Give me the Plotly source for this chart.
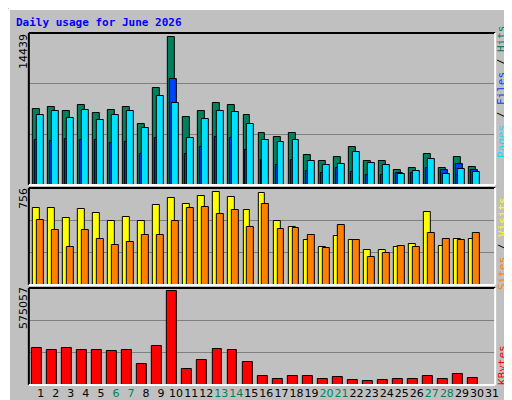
import plotly.graph_objects as go

days = list(range(1, 32))
hits = [7430,7630,7235,7825,7040,7335,7630,5960,9495,14439,6645,7235,8020,7825,6840,5075,4685,5075,2915,2325,2720,3700,2325,2325,1440,1640,3010,1640,2720,1735,0]
files = [4420,4320,4520,4420,4420,4125,4225,3045,4615,10380,3045,3730,4715,4615,3435,2455,1965,2455,1375,1180,1670,1275,980,980,1180,1180,1670,1440,2030,1440,0]
pages = [6840,7235,6550,7335,6350,6840,7235,5565,8710,8020,4585,6450,7235,7140,5960,4390,4190,4390,2325,1930,2030,3210,2130,1930,1050,1345,2520,1050,1540,1245,0]
sites = [632,632,550,624,591,525,558,525,649,707,665,723,756,715,608,748,525,476,368,311,401,368,286,286,311,335,599,319,377,377,0]
visits = [533,451,311,451,377,327,352,410,410,525,632,640,583,616,476,665,459,467,410,302,492,368,228,261,319,311,426,377,368,426,0]
kbytes = [227500,215000,227500,215000,215000,208500,215000,126400,240000,575057,101100,151700,221200,215000,139000,56900,37900,56900,56900,37900,50500,31600,25300,31600,37900,37900,56900,37900,69500,44200,0]
weekend = {6, 7, 13, 14, 20, 21, 27, 28}

W, H = 512, 400
def px(x): return x / W
def py(y): return 1 - y / H

fig = go.Figure()
def bars(vals, color, off, width, ax):
    fig.add_trace(go.Bar(x=days, y=vals, offset=off, width=width, marker=dict(color=color, line=dict(color="black", width=1)),
                         xaxis="x" if ax == 1 else f"x{ax}", yaxis="y" if ax == 1 else f"y{ax}", showlegend=False, hoverinfo="skip"))

bars(hits, "#00805c", -0.24, 0.46, 1)
bars(files, "#0040ff", -0.11, 0.46, 1)
bars(pages, "#00e0ff", 0.02, 0.46, 1)
bars(sites, "#ffff00", -0.24, 0.46, 2)
bars(visits, "#ff8000", 0.02, 0.46, 2)
bars(kbytes, "#ff0000", -0.3, 0.66, 3)

xdom = [px(21), px(491)]
ranges = {1: max(hits) * 151 / 147, 2: max(sites) * 96 / 91.7, 3: max(kbytes) * 95 / 91.7}
ydoms = {1: [py(177), py(25)], 2: [py(277), py(180)], 3: [py(377), py(280)]}
lay = dict(width=W, height=H, margin=dict(l=0, r=0, t=0, b=0), paper_bgcolor="#c0c0c0", plot_bgcolor="#c0c0c0",
           barmode="overlay", bargap=0)
for i in (1, 2, 3):
    xs = "xaxis" if i == 1 else f"xaxis{i}"
    ys = "yaxis" if i == 1 else f"yaxis{i}"
    R = ranges[i]
    lay[xs] = dict(domain=xdom, range=[0.5, 31.5], anchor="y" if i == 1 else f"y{i}", showgrid=False, zeroline=False,
                   showticklabels=(i == 3), ticks="", tickangle=0,
                   tickvals=[d + 0.29 for d in days] if i == 3 else None,
                   ticktext=[(f"<span style='color:#00805c'>{d}</span>" if d in weekend else str(d)) for d in days] if i == 3 else None,
                   tickfont=dict(family="DejaVu Sans", size=11, color="black"))
    lay[ys] = dict(domain=ydoms[i], range=[0, R], anchor="x" if i == 1 else f"x{i}", tickvals=[R / 3, 2 * R / 3],
                   showticklabels=False, gridcolor="#808080", gridwidth=1, zeroline=False, ticks="")
fig.update_layout(**lay)

shapes = []
shapes.append(dict(type="rect", xref="paper", yref="paper", x0=px(503), x1=1, y0=0, y1=1, fillcolor="#808080", line_width=0, layer="below"))
shapes.append(dict(type="rect", xref="paper", yref="paper", x0=0, x1=1, y0=0, y1=py(394), fillcolor="#808080", line_width=0, layer="below"))
shapes.append(dict(type="line", xref="paper", yref="paper", x0=px(1), x1=px(1), y0=py(394), y1=py(1), line=dict(color="white", width=2)))
shapes.append(dict(type="line", xref="paper", yref="paper", x0=px(1), x1=px(503), y0=py(1), y1=py(1), line=dict(color="white", width=2)))
for i in (1, 2, 3):
    y0, y1 = ydoms[i]
    shapes.append(dict(type="line", xref="paper", yref="paper", x0=xdom[0], x1=xdom[1], y0=y1, y1=y1, line=dict(color="black", width=2)))
    shapes.append(dict(type="line", xref="paper", yref="paper", x0=xdom[0], x1=xdom[0], y0=y0, y1=y1, line=dict(color="black", width=2)))
    shapes.append(dict(type="line", xref="paper", yref="paper", x0=xdom[0], x1=xdom[1], y0=y0, y1=y0, line=dict(color="white", width=2)))
    shapes.append(dict(type="line", xref="paper", yref="paper", x0=xdom[1], x1=xdom[1], y0=y0, y1=y1, line=dict(color="white", width=2)))
fig.update_layout(shapes=shapes)

mono = "DejaVu Sans Mono"
ann = [
    dict(text="<b>Daily usage for June 2026</b>", x=px(6), y=py(15), xanchor="left", yanchor="middle",
         font=dict(family=mono, size=11, color="#0000ff")),
    dict(text=f"{max(hits)}", x=px(15), y=py(43), textangle=-90, xanchor="center", yanchor="middle", font=dict(family="DejaVu Sans", size=11, color="black")),
    dict(text=f"{max(sites)}", x=px(15), y=py(190), textangle=-90, xanchor="center", yanchor="middle", font=dict(family="DejaVu Sans", size=11, color="black")),
    dict(text=f"{max(kbytes)}", x=px(15), y=py(300), textangle=-90, xanchor="center", yanchor="middle", font=dict(family="DejaVu Sans", size=11, color="black")),
    dict(text="<span style='color:#00e0ff'>Pages</span> / <span style='color:#0040ff'>Files</span> / <span style='color:#00805c'>Hits</span>",
         x=px(498), y=py(84), textangle=-90, xanchor="center", yanchor="middle", font=dict(family=mono, size=11, color="black")),
    dict(text="<span style='color:#ff8000'>Sites</span> / <span style='color:#ffff00'>Visits</span>",
         x=px(498), y=py(236), textangle=-90, xanchor="center", yanchor="middle", font=dict(family=mono, size=11, color="black")),
    dict(text="<span style='color:#ff0000'>KBytes</span>",
         x=px(498), y=py(357), textangle=-90, xanchor="center", yanchor="middle", font=dict(family=mono, size=11, color="black")),
]
for a in ann:
    a.update(xref="paper", yref="paper", showarrow=False)
fig.update_layout(annotations=ann)
fig.write_html("out.html")
